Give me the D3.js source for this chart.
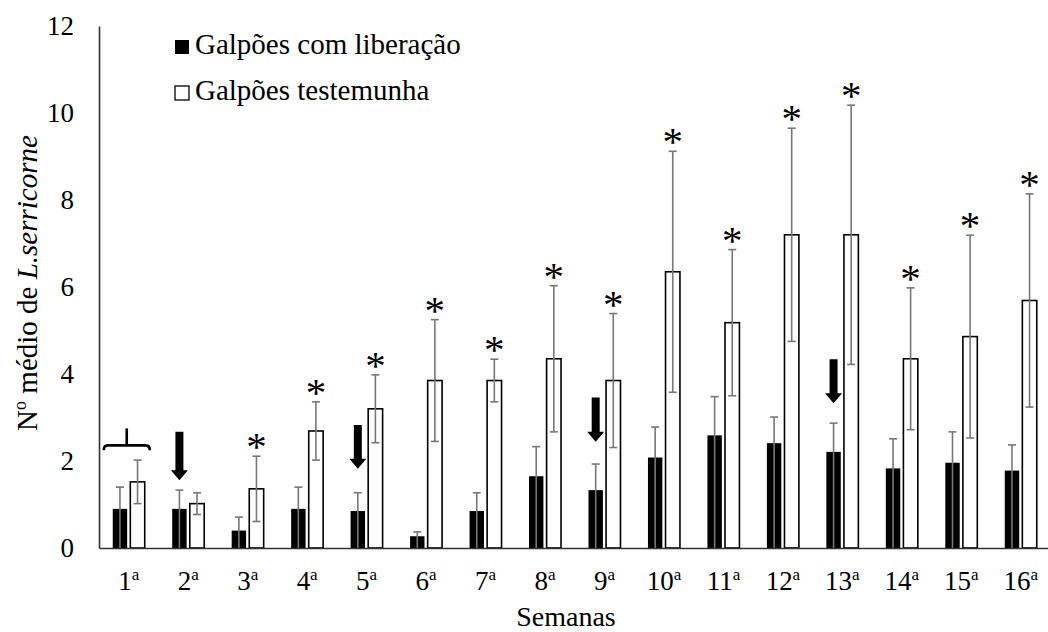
<!DOCTYPE html>
<html>
<head>
<meta charset="utf-8">
<script src="https://cdn.jsdelivr.net/npm/d3@7"></script>
<style>
  html, body { margin: 0; padding: 0; background: #fff; }
  svg { display: block; }
</style>
</head>
<body>
<svg id="chart" width="1048" height="632" font-family="Liberation Serif"></svg>
<script>
// Weekly mean counts of L. serricorne per shed (mean ± error)
const weeks = ["1", "2", "3", "4", "5", "6", "7", "8", "9", "10", "11", "12", "13", "14", "15", "16"];
const seriesNames = ["Galpões com liberação", "Galpões testemunha"];

const releaseMean = [0.90, 0.90, 0.40, 0.90, 0.85, 0.27, 0.85, 1.65, 1.33, 2.08, 2.59, 2.41, 2.21, 1.83, 1.96, 1.78];
const releaseErr  = [0.50, 0.43, 0.31, 0.50, 0.42, 0.10, 0.42, 0.68, 0.60, 0.70, 0.89, 0.60, 0.66, 0.68, 0.71, 0.59];
const controlMean = [1.52, 1.02, 1.36, 2.69, 3.20, 3.85, 3.85, 4.35, 3.85, 6.35, 5.18, 7.20, 7.20, 4.35, 4.86, 5.69];
const controlErr  = [0.50, 0.25, 0.75, 0.67, 0.78, 1.40, 0.49, 1.68, 1.54, 2.77, 1.68, 2.45, 2.98, 1.63, 2.33, 2.45];

// Weeks with a significant difference (marked with *)
const significantWeeks = ["3", "4", "5", "6", "7", "8", "9", "10", "11", "12", "13", "14", "15", "16"];

// Release events (arrows), given in axis units: top of shaft and tip
const releaseWeeks = ["2", "5", "9", "13"];
const arrowTop = [2.67, 2.83, 3.46, 4.34];
const arrowTip = [1.56, 1.82, 2.44, 3.33];

// Pre-release bracket over week 1
const bracketWeek = "1";
const bracketLevel = 2.36;
const bracketStemTop = 2.75;

const yTicks = [0, 2, 4, 6, 8, 10, 12];

const FONT = "Liberation Serif";
const svg = d3.select("#chart");
const plotL = 99, plotR = 1050.5, plotT = 26, plotB = 548;
const TICK_FS = 27, TITLE_FS = 28, LEGEND_FS = 29;

const x = d3.scaleBand().domain(weeks).range([plotL, plotR]).paddingInner(0).paddingOuter(0);
const bw = x.bandwidth();
const xs = d3.scaleBand().domain(seriesNames).range([bw / 2 - 16, bw / 2 + 16]).paddingInner(0.18);
const y = d3.scaleLinear().domain([0, 12]).range([plotB, plotT]);

const rows = weeks.map((w, i) => ({
  week: w,
  vals: [
    { s: seriesNames[0], v: releaseMean[i], e: releaseErr[i] },
    { s: seriesNames[1], v: controlMean[i], e: controlErr[i] }
  ]
}));

// Bars
const g = svg.append("g");
const grp = g.selectAll("g.week").data(rows).join("g")
  .attr("class", "week")
  .attr("transform", d => `translate(${x(d.week)},0)`);

grp.selectAll("rect").data(d => d.vals).join("rect")
  .attr("x", d => xs(d.s))
  .attr("width", xs.bandwidth())
  .attr("y", d => y(d.v))
  .attr("height", d => y(0) - y(d.v))
  .attr("fill", (d, i) => i === 0 ? "#000" : "#fff")
  .attr("stroke", "#000")
  .attr("stroke-width", (d, i) => i === 0 ? 0 : 1.6);

// Error bars (treated sheds: whisker runs from the baseline up to mean + error)
const capW = 8;
grp.selectAll("g.err").data(d => d.vals).join("g")
  .attr("class", "err")
  .each(function (d, i) {
    const cx = xs(d.s) + xs.bandwidth() / 2;
    const hi = y(d.v + d.e);
    const lo = i === 0 ? y(0) : y(Math.max(0, d.v - d.e));
    const e = d3.select(this);
    e.append("line").attr("x1", cx).attr("x2", cx).attr("y1", hi).attr("y2", lo)
      .attr("stroke", "#777").attr("stroke-width", 1.6);
    e.append("line").attr("x1", cx - capW / 2).attr("x2", cx + capW / 2).attr("y1", hi).attr("y2", hi)
      .attr("stroke", "#777").attr("stroke-width", 1.6);
    if (i === 1) {
      e.append("line").attr("x1", cx - capW / 2).attr("x2", cx + capW / 2).attr("y1", lo).attr("y2", lo)
        .attr("stroke", "#777").attr("stroke-width", 1.6);
    }
  });

// Significance asterisks
const sigRows = rows.filter(r => significantWeeks.includes(r.week));
g.selectAll("text.star").data(sigRows).join("text")
  .attr("class", "star")
  .attr("x", d => x(d.week) + xs(seriesNames[1]) + xs.bandwidth() / 2)
  .attr("y", d => y(d.vals[1].v + d.vals[1].e) + 4)
  .attr("text-anchor", "middle")
  .attr("font-family", FONT)
  .attr("font-size", 41)
  .attr("fill", "#000")
  .text("*");

// Release arrows above the treated-shed bars
const shaftW = 8, headW = 17, headH = 10;
g.selectAll("path.arrow").data(releaseWeeks.map((w, i) => ({ w, t: arrowTop[i], p: arrowTip[i] }))).join("path")
  .attr("class", "arrow")
  .attr("fill", "#000")
  .attr("d", d => {
    const cx = x(d.w) + xs(seriesNames[0]) + xs.bandwidth() / 2;
    const yt = y(d.t), yp = y(d.p), yh = yp - headH;
    return `M${cx - shaftW / 2},${yt} L${cx + shaftW / 2},${yt} L${cx + shaftW / 2},${yh} L${cx + headW / 2},${yh} L${cx},${yp} L${cx - headW / 2},${yh} L${cx - shaftW / 2},${yh} Z`;
  });

// Bracket over week 1
{
  const cx = x(bracketWeek) + bw / 2 - 2;
  const half = 23;
  const yb = y(bracketLevel), ys = y(bracketStemTop);
  g.append("path")
    .attr("fill", "none").attr("stroke", "#000").attr("stroke-width", 2.6)
    .attr("d", `M${cx - half},${yb + 5} Q${cx - half},${yb} ${cx - half + 4},${yb} L${cx + half - 4},${yb} Q${cx + half},${yb} ${cx + half},${yb + 5}`);
  g.append("line").attr("x1", cx).attr("x2", cx).attr("y1", ys).attr("y2", yb)
    .attr("stroke", "#000").attr("stroke-width", 2.6);
}

// Axes
const yAxis = d3.axisLeft(y).tickValues(yTicks).tickSize(0).tickPadding(25).tickFormat(d3.format("d"));
const ya = svg.append("g").attr("transform", `translate(${plotL},0)`).call(yAxis)
  .attr("font-family", FONT).attr("font-size", TICK_FS);
ya.select(".domain").attr("stroke", "#333").attr("stroke-width", 1.6);
ya.selectAll("text").attr("font-size", TICK_FS).attr("font-family", FONT).attr("fill", "#000");

const xAxis = d3.axisBottom(x).tickSize(0).tickPadding(0).tickFormat(() => "");
const xa = svg.append("g").attr("transform", `translate(0,${plotB})`).call(xAxis)
  .attr("font-family", FONT).attr("font-size", TICK_FS);
xa.select(".domain").attr("stroke", "#333").attr("stroke-width", 1.6);
xa.selectAll(".tick").each(function (d) {
  const t = d3.select(this).append("text")
    .attr("y", 42).attr("text-anchor", "middle")
    .attr("font-size", TICK_FS).attr("font-family", FONT).attr("fill", "#000");
  t.append("tspan").text(d);
  t.append("tspan").attr("font-size", 17).attr("dy", -10).text("a");
});

// Axis titles
svg.append("text")
  .attr("x", 566).attr("y", 626)
  .attr("text-anchor", "middle").attr("font-family", FONT).attr("font-size", TITLE_FS).attr("fill", "#000")
  .text("Semanas");

const yt = svg.append("text")
  .attr("transform", "translate(37,283) rotate(-90)")
  .attr("text-anchor", "middle").attr("font-family", FONT).attr("font-size", 29).attr("fill", "#000");
yt.append("tspan").text("N");
yt.append("tspan").attr("font-size", 18).attr("dy", -11).text("o");
yt.append("tspan").attr("dy", 11).text(" médio de ");
yt.append("tspan").attr("font-style", "italic").text("L.serricorne");

// Legend
const legend = svg.append("g");
seriesNames.forEach((name, i) => {
  const ly = 54 + i * 46;
  legend.append("rect")
    .attr("x", 175).attr("y", ly - 14).attr("width", 14).attr("height", 14)
    .attr("fill", i === 0 ? "#000" : "#fff")
    .attr("stroke", "#000").attr("stroke-width", i === 0 ? 0 : 1.3);
  legend.append("text")
    .attr("x", 195).attr("y", ly)
    .attr("font-family", FONT).attr("font-size", LEGEND_FS).attr("fill", "#000")
    .text(name);
});
</script>
</body>
</html>
